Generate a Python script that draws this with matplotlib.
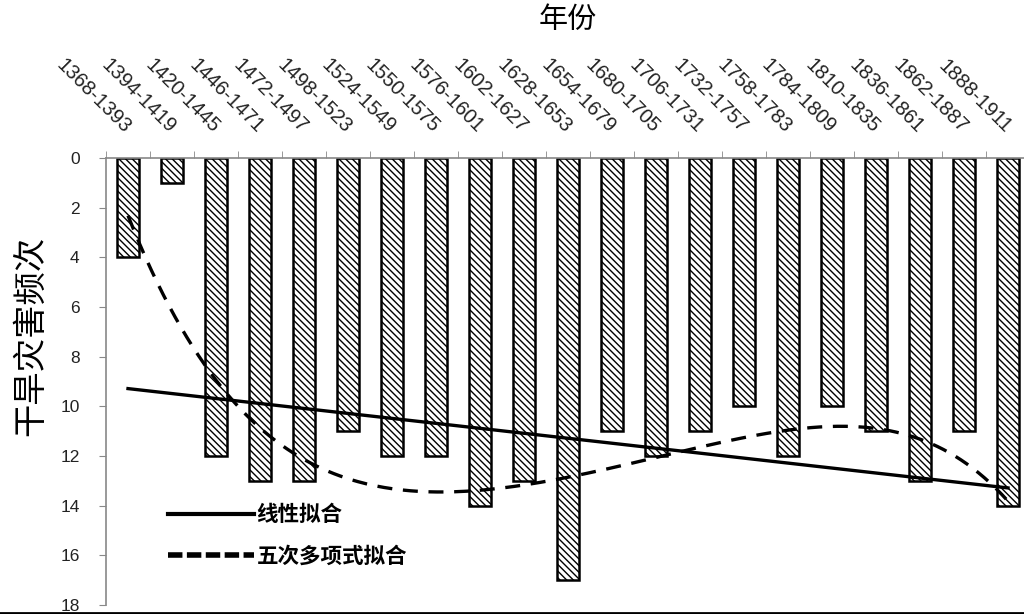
import numpy as np
import matplotlib
matplotlib.use("Agg")
import matplotlib.pyplot as plt
from matplotlib.lines import Line2D

plt.rcParams['font.family'] = ['Liberation Sans', 'Noto Sans CJK SC', 'DejaVu Sans']
plt.rcParams['hatch.linewidth'] = 1.0

periods = ["1368-1393", "1394-1419", "1420-1445", "1446-1471", "1472-1497",
           "1498-1523", "1524-1549", "1550-1575", "1576-1601", "1602-1627",
           "1628-1653", "1654-1679", "1680-1705", "1706-1731", "1732-1757",
           "1758-1783", "1784-1809", "1810-1835", "1836-1861", "1862-1887",
           "1888-1911"]
drought_counts = [4, 1, 12, 13, 13, 11, 12, 12, 14, 13, 17, 11, 12, 11, 10,
                  12, 10, 11, 13, 11, 14]
y_ticks = [0, 2, 4, 6, 8, 10, 12, 14, 16, 18]
x_label = "年份"
y_label = "干旱灾害频次"
linear_label = "线性拟合"
poly_label = "五次多项式拟合"

fig = plt.figure(figsize=(10.24, 6.14), dpi=100)
ax = fig.add_axes([106 / 1024, 1 - 605 / 614, 924 / 1024, (605 - 158) / 614])

x = np.arange(len(periods))
ax.bar(x, drought_counts, width=0.5, color='white', edgecolor='black',
       linewidth=1.8, hatch='\\\\\\\\\\', zorder=2)

# linear trend (Excel-style, x = 1..n)
xn = x + 1
lin = np.polyfit(xn, drought_counts, 1)
ax.plot(x, np.polyval(lin, xn), color='black', lw=2.4, zorder=3)

# quintic polynomial trend
poly = np.polyfit(xn, drought_counts, 5)
xs = np.linspace(xn[0], xn[-1], 300)
ax.plot(xs - 1, np.polyval(poly, xs), color='black', lw=2.4,
        dashes=(4.5, 3.2), zorder=3)

ax.set_xlim(-0.5, len(periods) - 0.5)
ax.set_ylim(18, 0)
ax.set_yticks(y_ticks)
ax.tick_params(axis='y', direction='out', length=5, color='#888888',
               labelsize=12.5, pad=14, labelcolor='#222222')

ax.xaxis.tick_top()
ax.xaxis.set_label_position('top')
ax.set_xticks(x)
ax.set_xticklabels(periods, rotation=-45, ha='right', va='center',
                   rotation_mode='anchor', fontsize=14.5, color='#222222')
ax.set_xticks(np.arange(-0.5, len(periods), 1), minor=True)
ax.tick_params(axis='x', which='major', length=0, pad=20)
ax.tick_params(axis='x', which='minor', length=5, color='#888888', direction='out')

for s in ['right', 'bottom']:
    ax.spines[s].set_visible(False)
for s in ['left', 'top']:
    ax.spines[s].set_color('#888888')
    ax.spines[s].set_linewidth(1.2)

ax.set_xlabel(x_label, fontsize=21, labelpad=20, family=['Noto Sans CJK SC'])
ax.set_ylabel(y_label, fontsize=24, family=['Noto Sans CJK SC'])
ax.yaxis.set_label_coords(-58 / 924, (605 - 336) / 447)

handles = [Line2D([], [], color='black', lw=3),
           Line2D([], [], color='black', lw=4, dashes=(2.6, 0.8))]
leg = ax.legend(handles, [linear_label, poly_label], loc='upper left',
                bbox_to_anchor=(43 / 924, (605 - 485) / 447), frameon=False,
                handlelength=4.0, handletextpad=0.1, labelspacing=0.95,
                prop={'family': ['Noto Sans CJK SC'], 'weight': 'bold', 'size': 15.5})

fig.add_artist(Line2D([0, 1], [1.5 / 614, 1.5 / 614], color='black', lw=2,
                      transform=fig.transFigure))

fig.savefig("out.png", dpi=100)
